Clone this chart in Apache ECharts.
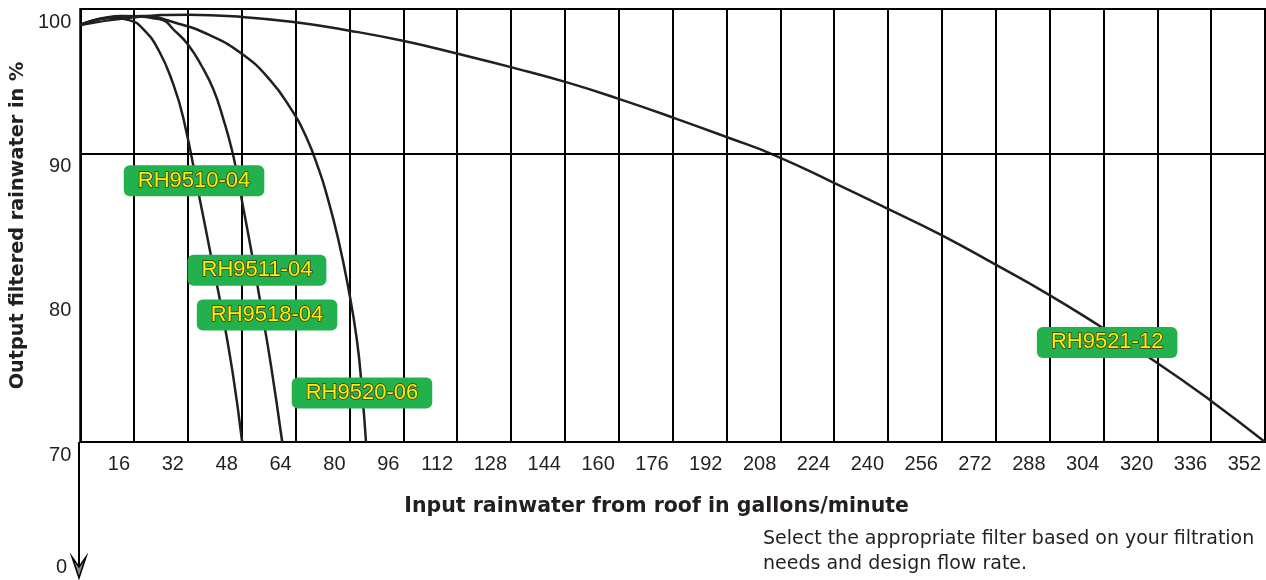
<!DOCTYPE html>
<html>
<head>
<meta charset="utf-8">
<script src="https://cdn.jsdelivr.net/npm/echarts@6/dist/echarts.min.js"></script>
<style>
  html, body { margin: 0; background: #fff; }
  #chart { width: 1266px; height: 580px; }
</style>
</head>
<body>
<div id="chart"></div>
<script>
// axis ticks
const flowMax = 352;
const flowStep = 16;
const outputTicks = [70, 80, 90, 100];

// curves: [gallons/minute, output %]
const rh9510 = [[0, 98.89], [6.2, 99.3], [9.8, 99.37], [14.5, 99.23], [18.7, 98.61], [23.4, 97.09], [27.6, 94.81],
  [30.6, 92.46], [35.6, 86.72], [38.7, 83.06], [41.9, 79.33], [45.3, 74.77], [48.1, 70]];
const rh9511 = [[0, 98.89], [12.2, 99.51], [23.4, 99.3], [28.5, 98.4], [32.1, 97.51], [35.9, 96.12], [39.5, 94.46],
  [42.4, 92.46], [45.4, 89.9], [47.8, 87.0], [50.8, 83.27], [53.7, 79.4], [56.7, 75.25], [60.0, 70]];
const rh9520 = [[0, 98.89], [7.7, 99.37], [18.7, 99.51], [28.5, 99.03], [38.3, 98.2], [48.1, 96.88], [56.1, 95.16],
  [62.6, 93.08], [67.1, 91.15], [71.0, 88.8], [73.3, 87.07], [76.6, 84.1], [79.5, 80.85], [82.2, 77.05],
  [83.7, 73.59], [84.9, 70]];
const rh9521 = [[0, 98.89], [16, 99.42], [32, 99.6], [48, 99.45], [64, 99.08], [80, 98.5], [96.2, 97.78],
  [112.5, 96.88], [128.8, 95.92], [145.1, 94.88], [160, 93.77], [176.3, 92.46], [192.6, 91.08], [206, 89.9],
  [224.4, 87.9], [239.2, 86.24], [255.6, 84.37], [271.3, 82.37], [287.6, 80.23], [303, 78.02], [318.8, 75.67],
  [335.7, 72.9], [352, 70]];

// filter tags
const tagNames = ['RH9510-04', 'RH9511-04', 'RH9518-04', 'RH9520-06', 'RH9521-12'];
const tagAnchors = [[33.8, 88.1], [52.5, 81.9], [55.5, 78.8], [83.7, 73.4], [305.1, 76.9]];

const FONT = '"Liberation Sans", Arial, sans-serif';
const WIDE = '"DejaVu Sans", sans-serif';
const INK = '#231f20';

const chart = echarts.init(document.getElementById('chart'));

function curve(name, data) {
  return {
    name: name,
    type: 'line',
    smooth: true,
    showSymbol: false,
    lineStyle: { color: INK, width: 2.5 },
    data: data,
    z: 3
  };
}

const big = curve('RH9521-12', rh9521);
big.markLine = {
  silent: true,
  symbol: 'none',
  label: { show: false },
  lineStyle: { color: '#000', width: 2, type: 'solid' },
  data: [{ yAxis: 90 }]
};

let option = {
  animation: false,
  grid: {
    left: 79, right: 1, top: 9, bottom: 138,
    show: true, borderColor: '#000', borderWidth: 2
  },
  xAxis: {
    type: 'value',
    min: 0, max: flowMax, interval: flowStep,
    axisLine: { show: true, lineStyle: { color: '#000', width: 2 } },
    axisTick: { show: false },
    splitLine: { show: true, lineStyle: { color: '#000', width: 2 } },
    axisLabel: {
      showMinLabel: false,
      align: 'right',
      padding: [0, 4, 0, 0],
      margin: 12,
      color: INK, fontFamily: FONT, fontSize: 20
    },
    name: 'Input rainwater from roof in gallons/minute',
    nameLocation: 'middle',
    nameGap: 54,
    nameTextStyle: { color: INK, fontFamily: WIDE, fontSize: 20.5, fontWeight: 'bold', padding: [0, 32, 0, 0] }
  },
  yAxis: {
    type: 'value',
    min: outputTicks[0], max: outputTicks[outputTicks.length - 1], interval: 10,
    axisLine: { show: true, lineStyle: { color: '#000', width: 2 } },
    axisTick: { show: false },
    splitLine: { show: false },
    axisLabel: {
      verticalAlign: 'top',
      padding: [3, 0, 0, 0],
      margin: 9,
      color: INK, fontFamily: FONT, fontSize: 20
    },
    name: 'Output filtered rainwater in %',
    nameLocation: 'middle',
    nameGap: 50,
    nameTextStyle: { color: INK, fontFamily: WIDE, fontSize: 19.3, fontWeight: 'bold' }
  },
  series: [
    curve('RH9510-04', rh9510),
    curve('RH9511-04', rh9511),
    curve('RH9520-06', rh9520),
    big,
    {
      type: 'scatter',
      symbolSize: 1,
      itemStyle: { color: 'rgba(0,0,0,0)', opacity: 1 },
      z: 10,
      data: tagAnchors.map((p, i) => ({ value: p, name: tagNames[i] })),
      label: {
        show: true,
        position: 'inside',
        formatter: '{b}',
        opacity: 1,
        backgroundColor: '#22b14c',
        borderRadius: 6,
        padding: [5, 14, 4, 14],
        color: '#ffee00',
        textBorderColor: '#3d3a14',
        textBorderWidth: 1.5,
        fontFamily: FONT,
        fontSize: 22
      }
    }
  ],
  graphic: [
    { type: 'line', shape: { x1: 79, y1: 442, x2: 79, y2: 574 }, style: { stroke: '#000', lineWidth: 2 } },
    {
      type: 'polygon',
      shape: { points: [[72, 557], [79, 567], [86, 557], [79, 578]] },
      style: { fill: '#8a8a8a', stroke: '#000', lineWidth: 1.5 }
    },
    {
      type: 'text', x: 67, y: 567,
      style: { text: '0', align: 'right', verticalAlign: 'middle', fill: INK, font: '20px ' + FONT }
    },
    {
      type: 'text', x: 763, y: 527,
      style: {
        text: 'Select the appropriate filter based on your filtration\nneeds and design flow rate.',
        fill: INK, font: '19px ' + WIDE, lineHeight: 25
      }
    }
  ]
};

chart.setOption(option);
</script>
</body>
</html>
